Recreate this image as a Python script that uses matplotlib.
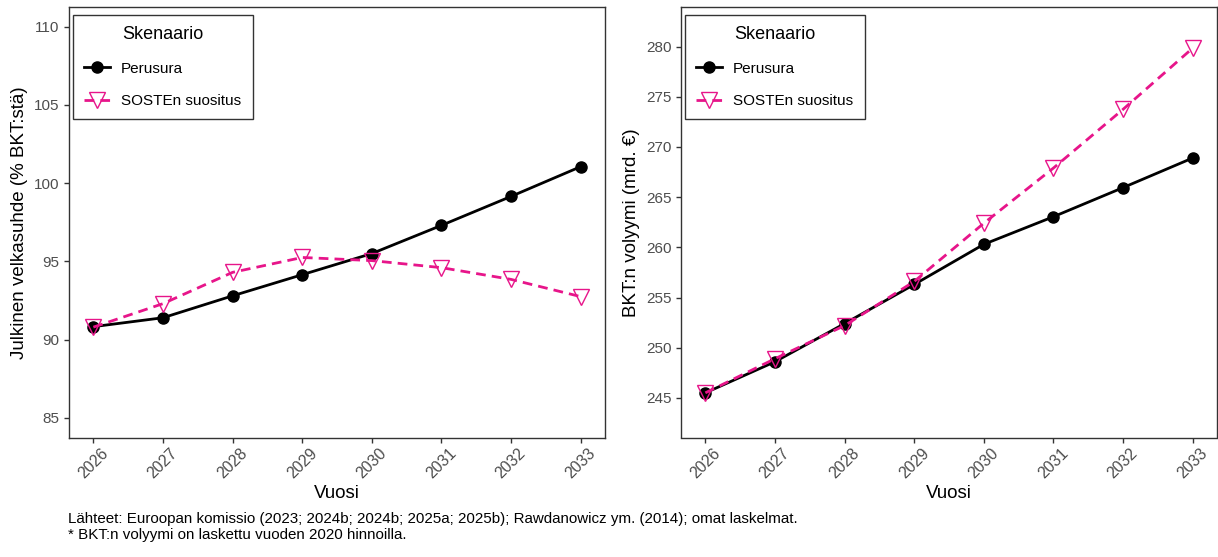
import matplotlib
matplotlib.use("Agg")
import matplotlib.pyplot as plt

# data
vuodet = [2026, 2027, 2028, 2029, 2030, 2031, 2032, 2033]
velka_perus = [90.83, 91.4, 92.8, 94.15, 95.5, 97.3, 99.15, 101.05]
velka_soste = [90.8, 92.3, 94.3, 95.25, 95.05, 94.6, 93.85, 92.75]
bkt_perus = [245.5, 248.6, 252.4, 256.3, 260.3, 263.05, 265.95, 268.9]
bkt_soste = [245.5, 248.9, 252.2, 256.6, 262.4, 267.9, 273.75, 279.85]

sarjat = ["Perusura", "SOSTEn suositus"]
velka_ticks = [85, 90, 95, 100, 105, 110]
bkt_ticks = [245, 250, 255, 260, 265, 270, 275, 280]

PINK = "#e7158a"
GRAY = "#4d4d4d"

plt.rcParams["font.family"] = ["Liberation Sans", "DejaVu Sans"]

fig = plt.figure(figsize=(12.18, 5.57), dpi=100)
ax1 = fig.add_axes([69 / 1218, 119.5 / 557, 536 / 1218, 430.5 / 557])
ax2 = fig.add_axes([681 / 1218, 119.5 / 557, 536 / 1218, 430.5 / 557])


def draw(ax, perus, soste, ticks, ylim, ylabel):
    ax.plot(vuodet, perus, color="black", lw=2.0, marker="o", ms=8,
            label=sarjat[0], zorder=3)
    ax.plot(vuodet, soste, color=PINK, lw=2.0, ls=(0, (3.5, 2.2)), marker="v",
            ms=11, mfc="none", mec=PINK, mew=1.0, label=sarjat[1], zorder=4)
    ax.set_xlim(2025.65, 2033.35)
    ax.set_ylim(*ylim)
    ax.set_xticks(vuodet)
    ax.set_xticklabels([str(v) for v in vuodet], rotation=45, ha="center")
    ax.set_yticks(ticks)
    ax.tick_params(colors="#333333", labelcolor=GRAY, labelsize=11,
                   length=3.5, width=1)
    ax.tick_params(axis="x", labelsize=11.5, pad=2)
    for s in ax.spines.values():
        s.set_color("#333333")
        s.set_linewidth(1.0)
    ax.set_xlabel("Vuosi", fontsize=13.5, labelpad=3)
    ax.set_ylabel(ylabel, fontsize=13.5, labelpad=4)
    leg = ax.legend(loc="upper left", bbox_to_anchor=(4 / 536, 1 - 8 / 430.5),
                    title="Skenaario", fontsize=11,
                    title_fontsize=13, frameon=True, fancybox=False,
                    edgecolor="black", borderpad=0.75, labelspacing=1.2,
                    handlelength=1.7, handletextpad=0.7,
                    borderaxespad=0)
    leg.get_frame().set_linewidth(1.0)
    leg._legend_box.sep = 13


draw(ax1, velka_perus, velka_soste, velka_ticks, (83.75, 111.25),
     "Julkinen velkasuhde (% BKT:stä)")
draw(ax2, bkt_perus, bkt_soste, bkt_ticks, (241.05, 283.95),
     "BKT:n volyymi (mrd. €)")

fig.text(68 / 1218, 1 - 519 / 557,
         "Lähteet: Euroopan komissio (2023; 2024b; 2024b; 2025a; 2025b); "
         "Rawdanowicz ym. (2014); omat laskelmat.",
         fontsize=10.9, va="center", ha="left")
fig.text(68 / 1218, 1 - 535 / 557,
         "* BKT:n volyymi on laskettu vuoden 2020 hinnoilla.",
         fontsize=10.9, va="center", ha="left")

fig.savefig("out.png", dpi=100)
